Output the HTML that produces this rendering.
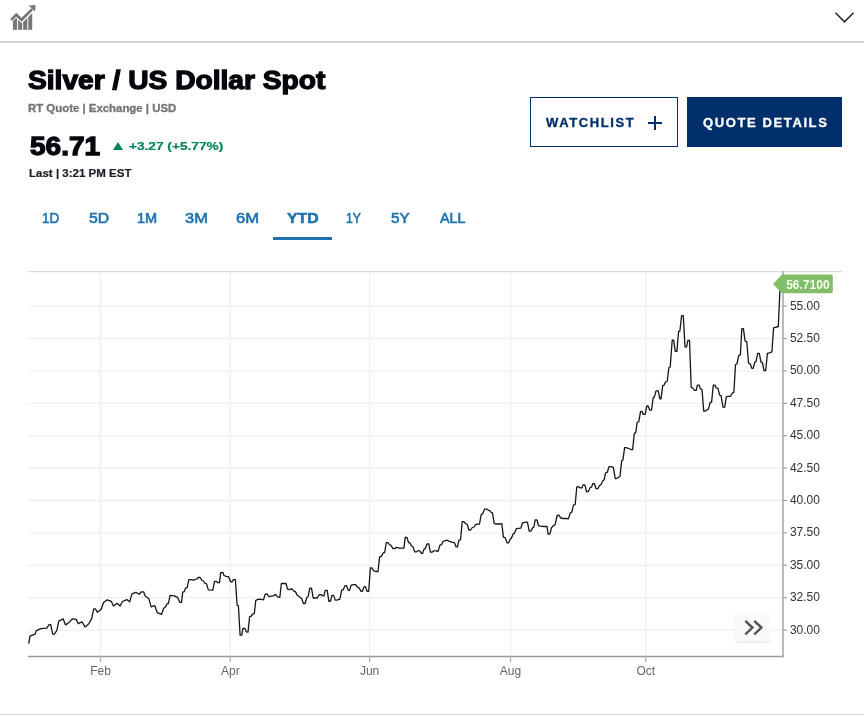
<!DOCTYPE html>
<html lang="en">
<head>
<meta charset="utf-8">
<title>Silver / US Dollar Spot</title>
<style>
html,body{margin:0;padding:0;background:#fff;}
body{width:864px;height:717px;position:relative;overflow:hidden;font-family:"Liberation Sans",Arial,sans-serif;color:#000;}
.abs{position:absolute;white-space:nowrap;line-height:1;}
.t{margin:0;transform-origin:0 0;}
.topline{left:0;top:41px;width:864px;height:2px;background:#d4d4d4;}
.botline{left:0;top:714px;width:864px;height:1px;background:#d9d9d9;}
.tri{left:112.5px;top:142.3px;width:0;height:0;border-left:5.6px solid transparent;border-right:5.6px solid transparent;border-bottom:8.7px solid #008456;}
.under{left:273px;top:237px;width:59px;height:3px;background:#1f72b0;}
.btn{top:97px;height:50px;box-sizing:border-box;font-size:13px;font-weight:bold;letter-spacing:1.3px;line-height:50px;text-align:center;}
.b1{left:530px;width:148px;border:1px solid #002f6c;color:#002f6c;background:#fff;}
.b2{left:687px;width:155px;background:#002f6c;color:#fff;}
svg text{font-family:"Liberation Sans",Arial,sans-serif;}
</style>
</head>
<body>
<svg class="abs" style="left:0;top:0" width="864" height="44" viewBox="0 0 864 44">
  <defs><clipPath id="ic"><path d="M9,24.3 L16.25,17.9 L21.7,23.2 L33,12.4 L36,12.4 L36,31 L9,31 Z"/></clipPath></defs>
  <g fill="#767676" clip-path="url(#ic)">
    <rect x="12.9" y="8" width="4.2" height="21.8"/>
    <rect x="18.1" y="8" width="4.1" height="21.8"/>
    <rect x="23.2" y="8" width="4.1" height="21.8"/>
    <rect x="28.3" y="8" width="3.9" height="21.8"/>
  </g>
  <path d="M11.1,19.9 L16.3,14.7 L21.6,19.8 L32.2,9.1" fill="none" stroke="#767676" stroke-width="2.7"/>
  <path d="M28.6,5.4 L35.5,4.9 L35.1,11.6 Z" fill="#767676"/>
  <path d="M835.5,12.8 L844.5,21.8 L853.5,12.8" fill="none" stroke="#2b2b2b" stroke-width="1.6"/>
</svg>
<div class="abs topline"></div>
<div class="abs botline"></div>
<div class="abs btn b1"></div>
<div class="abs btn b2"></div>
<div class="abs tri"></div>
<div class="abs" style="left:648px;top:122px;width:14px;height:2px;background:#002f6c"></div>
<div class="abs" style="left:654px;top:116px;width:2px;height:14px;background:#002f6c"></div>
<h1 class="abs t" style="left:28.49px;top:67.13px;font-size:26px;font-weight:bold;color:#06060c;-webkit-text-stroke:1.3px #06060c;transform:scaleX(1.0831)">Silver / US Dollar Spot</h1>
<div class="abs t" style="left:28.25px;top:103.25px;font-size:10.5px;font-weight:bold;color:#747474;-webkit-text-stroke:0.3px #747474;transform:scaleX(1.0856)">RT Quote | Exchange | USD</div>
<div class="abs t" style="left:29.52px;top:132.73px;font-size:26.5px;font-weight:bold;color:#06060c;-webkit-text-stroke:1.3px #06060c;transform:scaleX(1.0569)">56.71</div>
<div class="abs t" style="left:129.16px;top:140.6px;font-size:11.5px;font-weight:bold;color:#008456;-webkit-text-stroke:0.2px #008456;transform:scaleX(1.1881)">+3.27 (+5.77%)</div>
<div class="abs t" style="left:28.8px;top:167.9px;font-size:11px;font-weight:bold;color:#1d1d26;-webkit-text-stroke:0.2px #1d1d26;transform:scaleX(1.047)">Last | 3:21 PM EST</div>
<div class="abs t" style="left:42.15px;top:211.45px;font-size:14.2px;font-weight:normal;color:#1f72b0;-webkit-text-stroke:0.6px #1f72b0;transform:scaleX(0.9511)">1D</div>
<div class="abs t" style="left:88.58px;top:211.45px;font-size:14.2px;font-weight:normal;color:#1f72b0;-webkit-text-stroke:0.6px #1f72b0;transform:scaleX(1.1103)">5D</div>
<div class="abs t" style="left:137.2px;top:211.45px;font-size:14.2px;font-weight:normal;color:#1f72b0;-webkit-text-stroke:0.6px #1f72b0;transform:scaleX(1.0212)">1M</div>
<div class="abs t" style="left:185.19px;top:211.45px;font-size:14.2px;font-weight:normal;color:#1f72b0;-webkit-text-stroke:0.6px #1f72b0;transform:scaleX(1.1588)">3M</div>
<div class="abs t" style="left:236.03px;top:211.45px;font-size:14.2px;font-weight:normal;color:#1f72b0;-webkit-text-stroke:0.6px #1f72b0;transform:scaleX(1.1699)">6M</div>
<div class="abs t" style="left:287.06px;top:211.48px;font-size:14.2px;font-weight:bold;color:#1f72b0;-webkit-text-stroke:0.5px #1f72b0;transform:scaleX(1.1143)">YTD</div>
<div class="abs t" style="left:346.28px;top:211.45px;font-size:14.2px;font-weight:normal;color:#1f72b0;-webkit-text-stroke:0.6px #1f72b0;transform:scaleX(0.8552)">1Y</div>
<div class="abs t" style="left:391.35px;top:211.45px;font-size:14.2px;font-weight:normal;color:#1f72b0;-webkit-text-stroke:0.6px #1f72b0;transform:scaleX(1.0712)">5Y</div>
<div class="abs t" style="left:439.63px;top:211.45px;font-size:14.2px;font-weight:normal;color:#1f72b0;-webkit-text-stroke:0.6px #1f72b0;transform:scaleX(1.0142)">ALL</div>
<div class="abs t" style="left:545.66px;top:117.25px;font-size:12.3px;font-weight:bold;color:#002f6c;-webkit-text-stroke:0.3px #002f6c;letter-spacing:1.506px;transform:scaleX(1.06)">WATCHLIST</div>
<div class="abs t" style="left:702.8px;top:117.25px;font-size:12.3px;font-weight:bold;color:#ffffff;-webkit-text-stroke:0.3px #ffffff;letter-spacing:1.5px;transform:scaleX(1.06)">QUOTE DETAILS</div>
<div class="abs under"></div>
<svg class="abs" style="left:0;top:0" width="864" height="717" viewBox="0 0 864 717">
  <g stroke="#f0f0f0" stroke-width="1.3" fill="none"><line x1="28" x2="783" y1="630.1" y2="630.1"/><line x1="28" x2="783" y1="597.7" y2="597.7"/><line x1="28" x2="783" y1="565.3" y2="565.3"/><line x1="28" x2="783" y1="532.9" y2="532.9"/><line x1="28" x2="783" y1="500.5" y2="500.5"/><line x1="28" x2="783" y1="468.1" y2="468.1"/><line x1="28" x2="783" y1="435.7" y2="435.7"/><line x1="28" x2="783" y1="403.3" y2="403.3"/><line x1="28" x2="783" y1="370.9" y2="370.9"/><line x1="28" x2="783" y1="338.5" y2="338.5"/><line x1="28" x2="783" y1="306.1" y2="306.1"/><line x1="100.5" x2="100.5" y1="271" y2="656"/><line x1="230.3" x2="230.3" y1="271" y2="656"/><line x1="369.6" x2="369.6" y1="271" y2="656"/><line x1="510.5" x2="510.5" y1="271" y2="656"/><line x1="645.8" x2="645.8" y1="271" y2="656"/></g>
  <line x1="28" x2="842" y1="271.6" y2="271.6" stroke="#dadada" stroke-width="1.3"/>
  <line x1="28" x2="783.9" y1="656.5" y2="656.5" stroke="#989898" stroke-width="1.4"/>
  <line x1="783" x2="783" y1="271" y2="657.2" stroke="#b4b4b4" stroke-width="1.8"/>
  <g stroke="#a0a0a0" stroke-width="1.2" fill="none"><line x1="783" x2="787" y1="630.1" y2="630.1"/><line x1="783" x2="787" y1="597.7" y2="597.7"/><line x1="783" x2="787" y1="565.3" y2="565.3"/><line x1="783" x2="787" y1="532.9" y2="532.9"/><line x1="783" x2="787" y1="500.5" y2="500.5"/><line x1="783" x2="787" y1="468.1" y2="468.1"/><line x1="783" x2="787" y1="435.7" y2="435.7"/><line x1="783" x2="787" y1="403.3" y2="403.3"/><line x1="783" x2="787" y1="370.9" y2="370.9"/><line x1="783" x2="787" y1="338.5" y2="338.5"/><line x1="783" x2="787" y1="306.1" y2="306.1"/></g>
  <g stroke="#b0b0b0" stroke-width="1.3" fill="none"><line x1="100.5" x2="100.5" y1="656" y2="662"/><line x1="230.3" x2="230.3" y1="656" y2="662"/><line x1="369.6" x2="369.6" y1="656" y2="662"/><line x1="510.5" x2="510.5" y1="656" y2="662"/><line x1="645.8" x2="645.8" y1="656" y2="662"/></g>
  <g font-size="12" fill="#333"><text x="789.9" y="634">30.00</text><text x="789.9" y="601">32.50</text><text x="789.9" y="569">35.00</text><text x="789.9" y="536">37.50</text><text x="789.9" y="504">40.00</text><text x="789.9" y="472">42.50</text><text x="789.9" y="439">45.00</text><text x="789.9" y="407">47.50</text><text x="789.9" y="374">50.00</text><text x="789.9" y="342">52.50</text><text x="789.9" y="310">55.00</text></g>
  <g font-size="12" fill="#666"><text x="100.5" y="675" text-anchor="middle">Feb</text><text x="230.3" y="675" text-anchor="middle">Apr</text><text x="369.6" y="675" text-anchor="middle">Jun</text><text x="510.5" y="675" text-anchor="middle">Aug</text><text x="645.8" y="675" text-anchor="middle">Oct</text></g>
  <path d="M28.7,643.7 L30.0,636.1 L35.1,634.1 L36.4,630.6 L40.9,628.6 L46.8,628.1 L48.8,624.8 L50.6,624.4 L52.7,634.1 L54.3,634.1 L56.8,630.6 L58.8,621.1 L63.2,618.9 L65.5,624.9 L69.4,622.2 L72.2,618.9 L76.1,619.4 L78.3,623.6 L82.0,621.9 L85.0,626.9 L88.7,623.9 L91.7,618.6 L93.7,608.8 L95.3,608.8 L97.4,612.2 L101.2,609.3 L103.4,602.7 L107.1,599.8 L111.3,601.3 L113.4,606.0 L117.1,603.2 L120.1,606.0 L122.5,601.5 L126.8,599.6 L129.7,601.8 L131.9,593.9 L135.9,592.3 L139.2,594.3 L141.4,591.8 L143.6,591.8 L145.2,596.0 L148.9,598.8 L151.1,606.8 L154.8,605.7 L157.3,612.7 L161.5,614.4 L163.7,608.3 L165.9,606.5 L166.7,604.1 L168.4,603.3 L170.1,595.3 L174.3,595.8 L177.6,597.4 L179.8,602.3 L181.5,602.3 L182.7,592.2 L184.3,591.6 L185.5,588.2 L187.2,587.7 L188.8,579.7 L191.0,579.7 L193.2,580.2 L196.9,579.0 L198.2,577.5 L200.2,577.5 L201.9,580.5 L203.6,581.0 L204.8,583.2 L206.6,583.9 L208.3,589.9 L212.8,590.2 L214.5,581.4 L216.6,581.4 L217.8,582.7 L219.5,582.7 L220.7,572.7 L222.8,572.3 L224.0,575.5 L226.2,576.3 L228.7,576.8 L230.4,581.5 L232.0,581.9 L233.4,579.7 L235.4,579.7 L237.1,605.3 L238.4,605.6 L240.1,635.1 L241.8,635.1 L242.9,628.4 L244.9,628.4 L246.3,631.8 L248.0,632.1 L249.6,616.7 L251.3,616.2 L252.5,614.2 L254.3,613.7 L255.8,600.3 L258.0,599.4 L259.7,599.1 L263.5,599.8 L265.2,594.1 L266.9,593.9 L268.9,596.6 L271.4,596.1 L273.9,595.6 L275.6,594.4 L277.6,596.9 L279.8,597.4 L281.4,583.5 L286.0,583.5 L287.5,589.2 L289.7,589.6 L291.7,588.7 L293.7,590.9 L295.4,591.6 L297.1,595.1 L299.3,596.8 L301.8,598.8 L303.4,603.5 L305.1,603.5 L306.8,597.5 L308.1,596.8 L309.8,588.2 L311.5,588.2 L313.2,598.0 L317.2,598.0 L319.3,594.6 L321.0,594.6 L322.7,595.8 L323.9,595.8 L325.2,590.4 L327.2,590.4 L328.9,601.3 L330.6,601.0 L331.9,595.4 L333.6,595.4 L335.3,600.1 L336.9,600.1 L339.9,599.1 L341.6,590.4 L343.3,589.6 L345.0,585.7 L346.6,585.7 L348.3,590.4 L349.5,590.4 L351.2,585.1 L353.3,584.6 L355.7,584.6 L357.4,587.1 L359.0,587.9 L361.2,591.3 L362.4,591.3 L364.1,586.6 L365.4,586.6 L367.1,591.3 L368.7,591.3 L370.4,567.8 L371.8,567.8 L373.8,570.8 L375.8,571.5 L378.0,571.5 L379.6,556.9 L381.3,556.4 L383.0,553.2 L384.7,552.4 L386.3,542.7 L388.0,542.7 L389.7,544.9 L390.8,545.2 L393.0,548.6 L394.7,548.6 L396.4,547.4 L399.2,548.2 L403.9,548.2 L405.2,537.3 L406.9,537.3 L408.6,542.7 L410.3,543.2 L411.3,545.8 L413.0,546.8 L414.7,551.8 L416.4,551.8 L418.4,550.5 L419.7,551.0 L421.4,553.3 L422.6,553.3 L424.2,548.8 L425.4,548.5 L427.1,543.8 L428.8,543.8 L430.4,552.1 L432.1,552.1 L434.3,550.5 L436.0,551.0 L438.1,551.3 L439.8,545.4 L441.5,544.6 L443.2,541.3 L444.8,540.8 L446.8,540.1 L449.3,541.3 L451.9,542.1 L454.4,542.6 L456.0,546.8 L457.4,546.8 L458.9,540.4 L460.6,539.6 L462.2,521.7 L463.9,521.7 L465.6,523.7 L467.3,524.5 L468.9,530.0 L470.6,530.0 L472.3,527.5 L474.0,527.0 L475.6,524.5 L477.3,524.2 L479.5,524.0 L481.2,514.5 L482.8,513.6 L484.5,509.1 L486.7,509.1 L488.7,510.3 L490.0,510.8 L491.2,512.5 L492.5,512.8 L494.2,523.7 L496.2,524.0 L499.6,524.0 L501.8,523.7 L503.4,537.1 L505.1,537.6 L507.1,542.9 L508.5,542.9 L510.1,539.2 L511.3,538.4 L513.0,534.2 L514.3,533.4 L516.3,528.7 L518.5,528.4 L520.8,528.2 L522.5,522.8 L524.7,522.5 L525.9,522.0 L527.5,522.3 L529.2,531.2 L530.9,531.2 L532.6,527.9 L533.9,527.0 L535.2,519.8 L536.9,519.8 L538.6,525.7 L540.6,526.2 L544.0,526.5 L547.0,526.5 L548.1,534.1 L549.8,534.1 L551.5,527.9 L552.6,526.4 L555.1,524.7 L557.1,515.5 L558.8,515.2 L560.9,518.0 L563.4,518.5 L566.0,518.5 L568.5,518.8 L570.1,513.0 L571.8,512.1 L573.5,505.1 L575.2,504.3 L576.8,487.0 L578.5,486.7 L580.2,487.9 L581.9,487.9 L583.2,484.8 L584.9,484.8 L586.5,491.7 L588.2,491.7 L589.9,487.9 L591.6,487.0 L592.7,483.7 L594.4,483.7 L596.1,488.7 L597.8,488.7 L599.4,485.7 L601.1,484.5 L602.8,480.8 L604.0,480.0 L605.6,472.8 L607.3,472.3 L609.0,466.6 L611.2,466.6 L613.3,467.3 L615.3,478.7 L617.0,478.3 L620.0,476.5 L621.7,460.6 L622.9,460.2 L624.6,447.7 L626.2,447.7 L628.7,448.5 L631.3,449.7 L632.6,449.7 L634.3,433.4 L635.8,432.6 L637.1,422.6 L638.8,421.7 L640.5,411.7 L642.1,411.3 L643.4,414.4 L645.1,414.4 L646.8,406.0 L648.1,406.0 L649.8,410.2 L651.5,410.2 L653.2,397.6 L654.3,397.1 L656.0,390.8 L658.2,390.8 L659.9,398.8 L661.0,398.8 L662.7,385.7 L663.9,385.4 L665.5,382.0 L667.2,381.5 L668.9,367.5 L670.2,367.0 L672.2,340.2 L673.6,340.2 L675.3,351.4 L676.9,351.4 L678.6,331.3 L679.9,331.0 L681.6,315.6 L683.3,315.6 L685.0,346.9 L686.6,346.9 L687.8,340.5 L689.5,340.5 L691.2,387.1 L692.8,388.2 L694.5,390.4 L696.2,390.4 L697.4,385.1 L699.0,385.1 L700.4,388.7 L702.0,389.6 L703.7,411.0 L705.4,411.0 L707.1,409.7 L708.4,409.2 L710.1,402.6 L711.6,402.1 L713.3,385.1 L714.9,385.1 L716.3,387.9 L718.0,388.4 L719.6,395.1 L721.0,395.4 L723.0,407.2 L724.7,407.2 L726.3,396.8 L728.0,396.3 L730.5,396.3 L732.2,393.3 L733.9,392.1 L735.5,364.5 L736.9,364.0 L738.8,355.4 L740.4,354.9 L741.8,328.7 L743.4,328.7 L745.1,341.2 L746.8,341.7 L748.5,363.0 L750.1,363.8 L751.8,368.3 L753.2,368.3 L754.8,362.1 L756.0,361.6 L757.7,353.4 L759.3,353.4 L761.0,362.1 L762.4,362.5 L764.0,370.5 L765.7,370.5 L767.4,353.4 L769.4,352.9 L771.9,351.8 L773.6,327.8 L775.3,327.3 L778.3,326.5 L779.9,291.0 L780.6,283.4" fill="none" stroke="#161616" stroke-width="1.3" stroke-linejoin="round"/>
  <rect x="734.6" y="613.6" width="35.4" height="29" rx="3" fill="#e2e2e2"/>
  <rect x="734.3" y="613" width="36" height="28.6" rx="3" fill="#fafafa"/>
  <path d="M745.3,620.8 L752.4,627.6 L745.3,634.4 M754.3,620.8 L761.4,627.6 L754.3,634.4" fill="none" stroke="#555" stroke-width="2.5"/>
  <path d="M773,283.9 L782,274.6 L830.8,274.6 Q832.8,274.6 832.8,276.6 L832.8,291.2 Q832.8,293.2 830.8,293.2 L782,293.2 Z" fill="#82bd68"/>
  <text x="786.2" y="288.7" font-size="12" font-weight="bold" fill="#f4fff0">56.7100</text>
</svg>
</body>
</html>
